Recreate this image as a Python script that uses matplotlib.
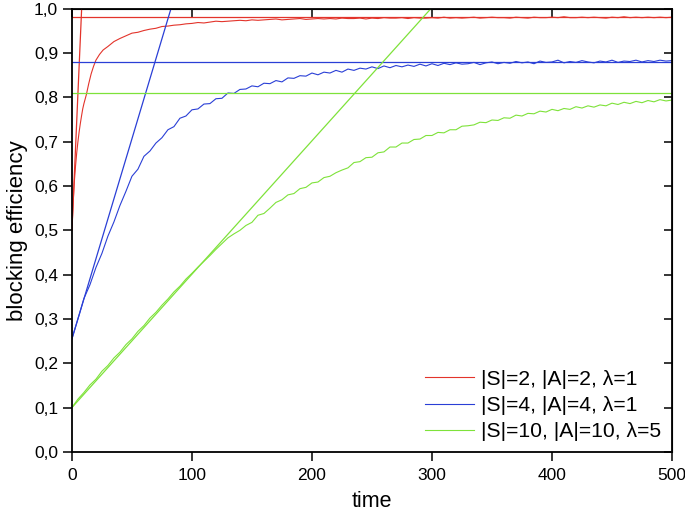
import matplotlib
matplotlib.use("Agg")
import matplotlib.pyplot as plt
from matplotlib.ticker import FuncFormatter, MultipleLocator

plt.rcParams["font.family"] = ["Liberation Sans", "DejaVu Sans"]

# red: |S|=2, |A|=2, lambda=1
t_red = [0, 1, 2, 3, 4, 5, 6, 7, 8, 9, 10, 12, 14, 16, 18, 20, 23, 26, 30, 35,
         40, 45, 50, 55, 60, 65, 70, 75, 80, 85, 90, 95, 100, 105, 110, 115, 120,
         125, 130, 135, 140, 145, 150, 155, 160, 165, 170, 175, 180, 185, 190, 195,
         200, 205, 210, 215, 220, 225, 230, 235, 240, 245, 250, 255, 260, 265, 270,
         275, 280, 285, 290, 295, 300, 305, 310, 315, 320, 325, 330, 335, 340, 345,
         350, 355, 360, 365, 370, 375, 380, 385, 390, 395, 400, 405, 410, 415, 420,
         425, 430, 435, 440, 445, 450, 455, 460, 465, 470, 475, 480, 485, 490, 495, 500]
v_red = [0.500, 0.560, 0.610, 0.645, 0.675, 0.700, 0.722, 0.741, 0.758, 0.774, 0.786,
         0.806, 0.831, 0.853, 0.870, 0.884, 0.897, 0.907, 0.915, 0.926,
         0.933, 0.939, 0.945, 0.947, 0.951, 0.954, 0.956, 0.960, 0.961, 0.963, 0.964,
         0.966, 0.967, 0.969, 0.968, 0.970, 0.972, 0.971, 0.972, 0.973, 0.974, 0.973,
         0.975, 0.974, 0.975, 0.976, 0.977, 0.975, 0.976, 0.977, 0.978, 0.976, 0.977,
         0.978, 0.977, 0.978, 0.977, 0.979, 0.978, 0.978, 0.979, 0.977, 0.979, 0.978,
         0.980, 0.979, 0.979, 0.980, 0.978, 0.980, 0.979, 0.979, 0.980, 0.979, 0.981,
         0.979, 0.980, 0.979, 0.980, 0.981, 0.979, 0.980, 0.981, 0.980, 0.980, 0.979,
         0.981, 0.980, 0.979, 0.981, 0.980, 0.980, 0.981, 0.980, 0.982, 0.980, 0.980,
         0.981, 0.980, 0.981, 0.980, 0.979, 0.981, 0.980, 0.982, 0.980, 0.981, 0.980,
         0.981, 0.980, 0.981, 0.980, 0.981]

t_grid = list(range(0, 505, 5))

# blue: |S|=4, |A|=4, lambda=1
v_blue = [0.255, 0.300, 0.346, 0.377, 0.416, 0.448, 0.487, 0.519, 0.556, 0.588,
          0.622, 0.638, 0.667, 0.679, 0.697, 0.709, 0.727, 0.734, 0.753, 0.758,
          0.772, 0.774, 0.785, 0.786, 0.797, 0.798, 0.810, 0.809, 0.818, 0.819,
          0.826, 0.824, 0.832, 0.831, 0.838, 0.835, 0.844, 0.843, 0.849, 0.848,
          0.855, 0.851, 0.857, 0.855, 0.861, 0.857, 0.864, 0.861, 0.866, 0.864,
          0.869, 0.865, 0.871, 0.867, 0.872, 0.869, 0.873, 0.870, 0.875, 0.871,
          0.876, 0.872, 0.877, 0.874, 0.878, 0.875, 0.876, 0.879, 0.874, 0.878,
          0.880, 0.876, 0.879, 0.877, 0.881, 0.878, 0.880, 0.876, 0.882, 0.879,
          0.880, 0.884, 0.878, 0.881, 0.879, 0.883, 0.880, 0.878, 0.882, 0.880,
          0.884, 0.879, 0.882, 0.881, 0.884, 0.880, 0.883, 0.881, 0.884, 0.882,
          0.883]

# green: |S|=10, |A|=10, lambda=5
v_green = [0.100, 0.119, 0.134, 0.151, 0.164, 0.182, 0.195, 0.212, 0.225, 0.242,
           0.255, 0.272, 0.285, 0.302, 0.315, 0.331, 0.345, 0.361, 0.374, 0.390,
           0.403, 0.417, 0.430, 0.443, 0.457, 0.470, 0.483, 0.492, 0.500, 0.511,
           0.518, 0.534, 0.538, 0.550, 0.563, 0.569, 0.580, 0.583, 0.594, 0.597,
           0.607, 0.609, 0.619, 0.622, 0.630, 0.636, 0.641, 0.653, 0.655, 0.664,
           0.665, 0.675, 0.677, 0.688, 0.688, 0.697, 0.697, 0.705, 0.706, 0.714,
           0.714, 0.721, 0.720, 0.727, 0.727, 0.735, 0.736, 0.738, 0.744, 0.743,
           0.749, 0.748, 0.754, 0.753, 0.760, 0.758, 0.764, 0.763, 0.769, 0.767,
           0.773, 0.770, 0.775, 0.773, 0.779, 0.776, 0.781, 0.778, 0.783, 0.781,
           0.787, 0.784, 0.789, 0.786, 0.791, 0.788, 0.793, 0.790, 0.795, 0.792,
           0.794]

# asymptote levels and initial tangents (start value, time where tangent hits 1.0)
levels = [0.981, 0.880, 0.810]
tangent_x = [[0, 8.1], [0, 82.5], [0, 299]]
tangent_y = [[0.50, 1.0], [0.255, 1.0], [0.10, 1.0]]

labels = ["|S|=2, |A|=2, λ=1", "|S|=4, |A|=4, λ=1", "|S|=10, |A|=10, λ=5"]
colors = ["#e3342b", "#2a3fd6", "#7ee23a"]

fig = plt.figure(figsize=(6.85, 5.17), dpi=100)
ax = fig.add_axes([0.105, 0.126, 0.876, 0.857])

series = [(t_red, v_red), (t_grid, v_blue), (t_grid, v_green)]
for (t, v), lvl, tx, ty, lab, col in zip(series, levels, tangent_x, tangent_y, labels, colors):
    ax.plot(t, v, color=col, lw=0.8, label=lab)
    ax.axhline(lvl, color=col, lw=0.9)
    ax.plot(tx, ty, color=col, lw=0.9)

ax.set_xlim(0, 500)
ax.set_ylim(0, 1.0)
ax.xaxis.set_major_locator(MultipleLocator(100))
ax.yaxis.set_major_locator(MultipleLocator(0.1))
ax.yaxis.set_major_formatter(FuncFormatter(lambda v, p: f"{v:.1f}".replace(".", ",")))
ax.tick_params(direction="out", length=6.5, width=1.1, labelsize=12.5, colors="black")
ax.tick_params(axis="x", pad=5)
for s in ax.spines.values():
    s.set_linewidth(1.3)

top = ax.secondary_xaxis("top")
top.xaxis.set_major_locator(MultipleLocator(100))
top.tick_params(direction="in", length=6, width=1.1, labeltop=False)
right = ax.secondary_yaxis("right")
right.yaxis.set_major_locator(MultipleLocator(0.1))
right.tick_params(direction="in", length=6, width=1.1, labelright=False)

ax.set_xlabel("time", fontsize=15.5, labelpad=6)
ax.set_ylabel("blocking efficiency", fontsize=16, labelpad=4)

ax.legend(loc="lower right", frameon=False, fontsize=15.2, handlelength=2.3,
          handletextpad=0.35, labelspacing=0.35, borderaxespad=0.1)

fig.savefig("out.png", dpi=100)
